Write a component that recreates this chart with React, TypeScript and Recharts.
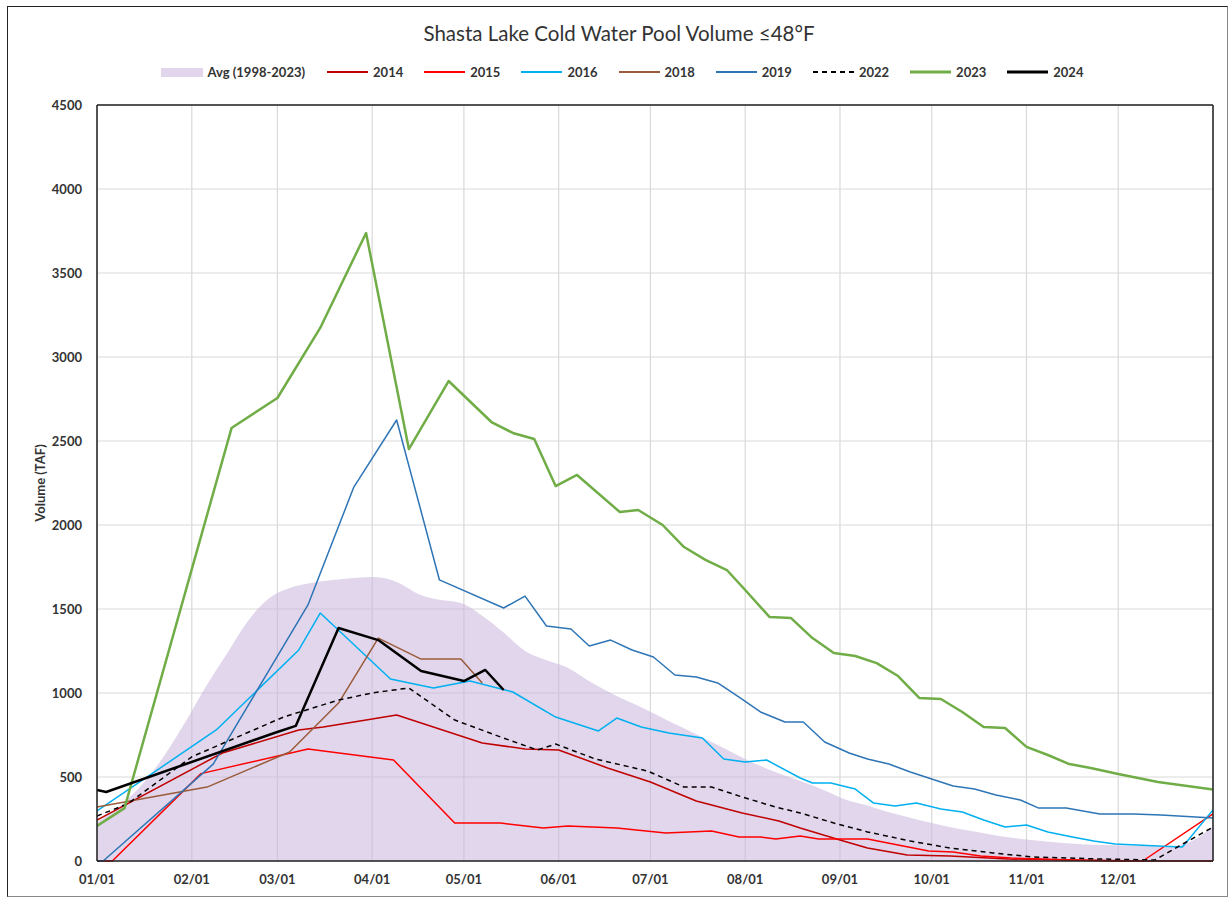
import React from 'react';
import { ComposedChart, Area, Line, XAxis, YAxis, CartesianGrid, Legend, ReferenceLine } from 'recharts';

// day-of-year, volume (TAF)
type Pt = [number, number];

const MONTH_DAYS = [0, 31, 59, 90, 120, 151, 181, 212, 243, 273, 304, 334];
const MONTH_LABELS = ['01/01', '02/01', '03/01', '04/01', '05/01', '06/01', '07/01', '08/01', '09/01', '10/01', '11/01', '12/01'];
const Y_TICKS = [0, 500, 1000, 1500, 2000, 2500, 3000, 3500, 4000, 4500];

const avg: Pt[] = [
    [0, 230], [7, 320], [14, 440], [21, 600], [28, 800], [35, 1020], [42, 1220], [49, 1420], [56, 1560], [63, 1625],
    [70, 1655], [77, 1672], [84, 1685], [91, 1690], [98, 1660], [105, 1590], [112, 1555], [119, 1536], [126, 1460],
    [133, 1360], [140, 1250], [147, 1195], [154, 1150], [161, 1070], [168, 1000], [175, 940], [182, 880], [189, 815],
    [196, 755], [203, 690], [210, 625], [217, 565], [224, 515], [231, 470], [238, 420], [245, 365], [252, 330],
    [259, 290], [266, 258], [273, 226], [280, 198], [287, 175], [294, 152], [301, 134], [308, 120], [315, 108],
    [322, 100], [329, 95], [336, 93], [343, 90], [350, 86], [357, 110], [365, 205],
];

const y2014: Pt[] = [
    [0, 244], [41, 643], [66, 780], [74, 798], [98, 869], [126, 702], [140, 667], [151, 661], [167, 554], [181, 470],
    [196, 357], [211, 286], [223, 238], [230, 196], [243, 125], [252, 77], [265, 36], [279, 30], [298, 12], [317, 6],
    [335, 0], [365, 0],
];

const y2015: Pt[] = [
    [0, 0], [5, 0], [34, 520], [69, 667], [97, 601], [117, 226], [132, 226], [146, 196], [154, 208], [170, 196],
    [186, 167], [201, 179], [210, 143], [217, 143], [222, 131], [230, 149], [236, 131], [252, 131], [262, 95],
    [272, 60], [280, 54], [289, 30], [299, 18], [320, 6], [342, 0], [365, 280],
];

const y2016: Pt[] = [
    [0, 298], [39, 780], [66, 1256], [73, 1476], [96, 1083], [110, 1030], [122, 1071], [136, 1006], [150, 857],
    [164, 774], [170, 851], [178, 798], [187, 762], [198, 732], [205, 607], [212, 589], [219, 601], [230, 494],
    [234, 464], [240, 464], [248, 428], [254, 345], [261, 327], [268, 345], [276, 310], [283, 292], [290, 244],
    [297, 202], [304, 214], [311, 173], [319, 143], [326, 119], [333, 101], [340, 95], [347, 89], [355, 83], [365, 304],
];

const y2018: Pt[] = [
    [0, 321], [36, 440], [63, 649], [79, 940], [92, 1327], [106, 1202], [119, 1202], [126, 1060],
];

const y2019: Pt[] = [
    [0, 0], [2, 0], [38, 577], [69, 1524], [84, 2226], [98, 2625], [112, 1673], [133, 1506], [140, 1577], [147, 1399],
    [155, 1381], [161, 1280], [168, 1315], [175, 1256], [182, 1214], [189, 1107], [196, 1095], [203, 1060], [210, 976],
    [217, 887], [225, 827], [231, 827], [238, 708], [246, 643], [252, 607], [259, 577], [266, 530], [273, 488],
    [280, 446], [287, 428], [294, 393], [302, 363], [308, 315], [317, 315], [328, 280], [339, 280], [348, 274], [365, 256],
];

const y2022: Pt[] = [
    [0, 268], [10, 340], [31, 620], [61, 857], [79, 958], [90, 1000], [102, 1030], [117, 839], [132, 738], [144, 661],
    [150, 696], [163, 607], [180, 536], [192, 440], [201, 440], [211, 381], [222, 321], [230, 286], [241, 226],
    [252, 173], [266, 119], [279, 77], [293, 48], [306, 24], [328, 12], [346, 6], [356, 110], [365, 202],
];

const y2023: Pt[] = [
    [0, 208], [9, 315], [44, 2577], [59, 2756], [73, 3173], [88, 3738], [102, 2452], [115, 2857], [129, 2613],
    [136, 2548], [143, 2512], [150, 2232], [157, 2298], [171, 2077], [177, 2089], [185, 2000], [192, 1869], [199, 1792],
    [206, 1732], [212, 1613], [220, 1452], [227, 1446], [234, 1327], [241, 1238], [248, 1220], [255, 1178], [262, 1101],
    [269, 970], [276, 964], [283, 887], [290, 798], [297, 792], [304, 679], [311, 631], [318, 577], [325, 553],
    [334, 518], [347, 470], [365, 425],
];

const y2024: Pt[] = [
    [0, 423], [3, 411], [58, 762], [65, 804], [79, 1387], [92, 1315], [106, 1131], [120, 1071], [127, 1137], [133, 1018],
];

const toRows = (pts: Pt[]) => pts.map(([day, v]) => ({ day, v }));

const SERIES = [
    { name: '2014', pts: y2014, color: '#C00000', width: 1.5, dash: undefined },
    { name: '2015', pts: y2015, color: '#FF0000', width: 1.5, dash: undefined },
    { name: '2016', pts: y2016, color: '#00B0F0', width: 1.5, dash: undefined },
    { name: '2018', pts: y2018, color: '#9A5B3A', width: 1.5, dash: undefined },
    { name: '2019', pts: y2019, color: '#2E75B6', width: 1.5, dash: undefined },
    { name: '2022', pts: y2022, color: '#000000', width: 1.5, dash: '5 4' },
    { name: '2023', pts: y2023, color: '#70AD47', width: 2.5, dash: undefined },
    { name: '2024', pts: y2024, color: '#000000', width: 2.5, dash: undefined },
];

const FONT = 'Lato, "Open Sans", sans-serif';
const TEXT = '#333333';
const AVG_FILL = 'rgb(200,180,220)';

const renderLegend = () => (
    <div style={{ display: 'flex', justifyContent: 'center', alignItems: 'center', height: 20, paddingLeft: 14, fontFamily: FONT, fontSize: 13, fontWeight: 700, color: TEXT }}>
        <div style={{ display: 'flex', alignItems: 'center', marginRight: 22 }}>
            <span style={{ display: 'inline-block', width: 42, height: 9, background: AVG_FILL, opacity: 0.55, marginRight: 5 }} />
            <span>Avg (1998-2023)</span>
        </div>
        {SERIES.map((s, i) => (
            <div key={s.name} style={{ display: 'flex', alignItems: 'center', marginRight: i === SERIES.length - 1 ? 0 : 21 }}>
                <svg width={41} height={6} style={{ marginRight: 5 }}>
                    <line x1={0} y1={3} x2={41} y2={3} stroke={s.color} strokeWidth={s.width + 0.5} strokeDasharray={s.dash} />
                </svg>
                <span>{s.name}</span>
            </div>
        ))}
    </div>
);

const App: React.FC = () => {
    return (
        <div style={{ position: 'relative', width: 1230, height: 899, background: '#fff' }}>
            <style>{'body{margin:0;}'}</style>
            <div style={{ position: 'absolute', left: 7, top: 6, width: 1221, height: 891, borderLeft: '1px solid #222', borderTop: '1px solid #222', borderRight: '1px solid #888', borderBottom: '1px solid #888', boxSizing: 'border-box' }} />
            <div style={{ position: 'absolute', left: 0, top: 21, width: 1238, textAlign: 'center', fontFamily: FONT, fontSize: 20.5, lineHeight: '24px', color: TEXT }}>
                Shasta Lake Cold Water Pool Volume ≤48°F
            </div>
            <div style={{ position: 'absolute', left: 0, top: 0 }}>
                <ComposedChart width={1230} height={899} margin={{ top: 105, right: 17, bottom: 8, left: 37 }}>
                    <CartesianGrid stroke="#D9D9D9" strokeWidth={1.2} />
                    <XAxis
                        type="number"
                        dataKey="day"
                        domain={[0, 365]}
                        ticks={MONTH_DAYS}
                        tickFormatter={(d) => MONTH_LABELS[MONTH_DAYS.indexOf(Number(d))] ?? ''}
                        height={30}
                        tickSize={0}
                        tickMargin={14}
                        axisLine={{ stroke: '#222', strokeWidth: 1.5 }}
                        tick={{ fill: TEXT, fontFamily: FONT, fontSize: 13, fontWeight: 700 }}
                        allowDataOverflow
                    />
                    <YAxis
                        type="number"
                        domain={[0, 4500]}
                        ticks={Y_TICKS}
                        width={60}
                        tickSize={0}
                        tickMargin={15}
                        axisLine={{ stroke: '#222', strokeWidth: 1.5 }}
                        tick={{ fill: TEXT, fontFamily: FONT, fontSize: 13, fontWeight: 700 }}
                        label={{ value: 'Volume (TAF)', angle: -90, position: 'insideLeft', offset: 3, style: { textAnchor: 'middle', fill: TEXT, fontFamily: FONT, fontSize: 13, fontWeight: 700 } }}
                    />
                    <Legend verticalAlign="middle" align="center" layout="horizontal" content={renderLegend} wrapperStyle={{ top: 62, left: 0, width: 1230 }} />
                    <Area
                        data={toRows(avg)}
                        dataKey="v"
                        name="Avg (1998-2023)"
                        type="monotone"
                        stroke="none"
                        fill={AVG_FILL}
                        fillOpacity={0.55}
                        isAnimationActive={false}
                        legendType="rect"
                    />
                    {SERIES.map(s => (
                        <Line
                            key={s.name}
                            data={toRows(s.pts)}
                            dataKey="v"
                            name={s.name}
                            type="linear"
                            stroke={s.color}
                            strokeWidth={s.width}
                            strokeDasharray={s.dash}
                            strokeLinejoin="round"
                            dot={false}
                            activeDot={false}
                            isAnimationActive={false}
                        />
                    ))}
                    <ReferenceLine y={4500} stroke="#222" strokeWidth={1.5} />
                    <ReferenceLine x={365} stroke="#222" strokeWidth={1.5} />
                </ComposedChart>
            </div>
        </div>
    );
};

export default App;
